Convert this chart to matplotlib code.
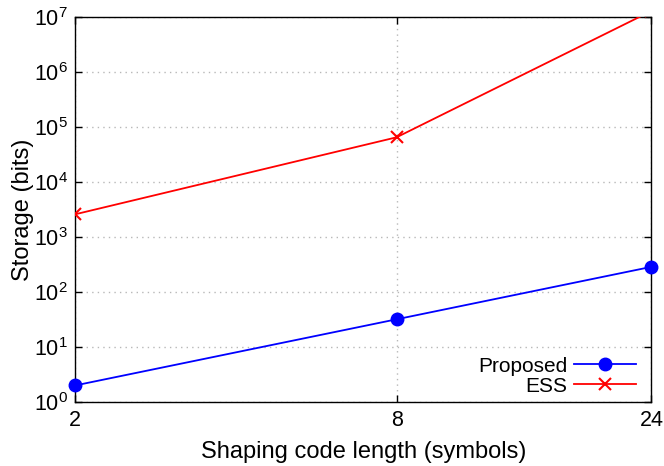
import numpy as np
import matplotlib
matplotlib.use("Agg")
from matplotlib import pyplot as plt
from matplotlib.ticker import FixedLocator, NullLocator, LogLocator

plt.rcParams['font.family'] = ['Liberation Sans', 'DejaVu Sans']
plt.rcParams['mathtext.fontset'] = 'custom'
plt.rcParams['mathtext.rm'] = 'Liberation Sans'

# data
code_len = [2, 8, 24]
proposed = [2, 32, 288]
ess = [2600, 65536, 1.3e7]
x_ticks = [2, 8, 24]

fig = plt.figure(figsize=(6.64, 4.66), dpi=100)
ax = fig.add_axes([0.113, 0.1373, 0.868, 0.8256])

ax.plot(code_len, proposed, color='#0000ff', marker='o', markersize=9,
        linewidth=1.3, label='Proposed', clip_on=False, zorder=5)
ax.plot(code_len, ess, color='#ff0000', marker='x', markersize=9,
        markeredgewidth=1.5, linewidth=1.3, label='ESS', zorder=5)

ax.set_xscale('log')
ax.set_yscale('log')
ax.set_xlim(2, 24)
ax.set_ylim(1, 1e7)

ax.xaxis.set_major_locator(FixedLocator(x_ticks))
ax.xaxis.set_minor_locator(NullLocator())
ax.set_xticklabels([str(v) for v in x_ticks])
ax.yaxis.set_major_locator(LogLocator(base=10, numticks=10))
ax.yaxis.set_minor_locator(NullLocator())
ax.xaxis.get_offset_text().set_visible(False)
ax.yaxis.get_offset_text().set_visible(False)

ax.grid(True, which='major', color='#b8b8b8', linestyle=(0, (1, 3)), linewidth=1)
ax.tick_params(direction='in', length=5, width=1, top=True, right=True,
               labelsize=15.5, pad=6)
ax.tick_params(axis='y', pad=5)
for s in ax.spines.values():
    s.set_linewidth(1)

ax.set_xlabel('Shaping code length (symbols)', fontsize=17, labelpad=7)
ax.set_ylabel('Storage (bits)', fontsize=17)
ax.yaxis.set_label_coords(-0.072, 0.5)

ax.legend(loc='lower right', bbox_to_anchor=(0.985, 0.0), frameon=False,
          markerfirst=False, fontsize=15, handlelength=3.0, borderaxespad=0.1,
          borderpad=0.2, labelspacing=0.05, handletextpad=0.3)

fig.savefig('out.png', dpi=100)
